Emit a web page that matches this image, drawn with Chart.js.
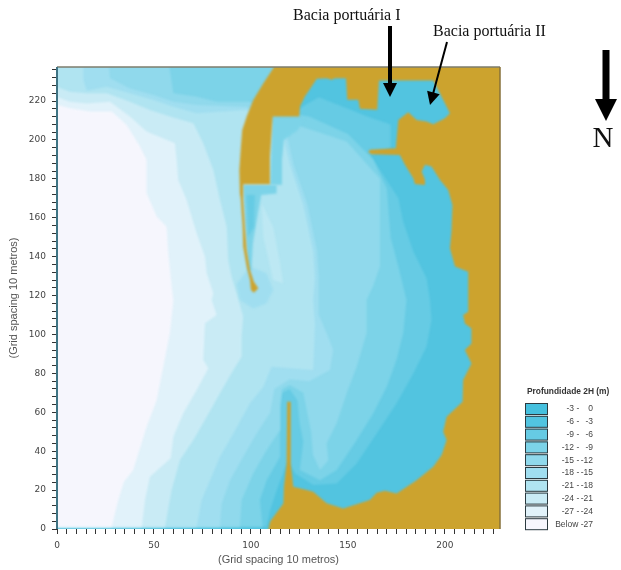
<!DOCTYPE html>
<html>
<head>
<meta charset="utf-8">
<style>
  html, body { margin: 0; padding: 0; background: #fff; }
  #wrap { position: absolute; left: 0; top: 0; width: 621px; height: 570px; }
</style>
</head>
<body>
<div id="wrap"><canvas id="depthMap" width="621" height="570"></canvas></div>
<script src="https://cdn.jsdelivr.net/npm/chart.js@4/dist/chart.umd.min.js"></script>
<script>
// values, grid units
const legendLow = ["-3", "-6", "-9", "-12", "-15", "-18", "-21", "-24", "-27"];
const legendHigh = ["0", "-3", "-6", "-9", "-12", "-15", "-18", "-21", "-24"];
const legendLast = "Below -27";

const xMax = 228.4;
const yMax = 237.5;

// each band runs a little past the axes so the soft edge stays outside the plot
const level3 = [[-3,1.2],[108,1.2],[110,10],[114,22],[117,30],[119,35],[122.7,28.6],[132.1,22.6],[144.2,23.4],[154.5,33.7],[164.8,49.1],[175.1,64.6],[183.7,80],[190.5,93.7],[193.1,107.4],[192.3,117.7],[190.5,129],[183.7,142.6],[178.5,158],[176,170],[168.2,182],[161.3,192.3],[172,196],[172,208],[160,212],[150,216],[135,222],[128,218],[122,214],[113,220],[113,241],[-3,241]];
const level4 = [[-3,1.2],[106,1.2],[104.6,14.9],[108.1,25.1],[115,37.1],[115,62],[116,70],[120,72],[124,66],[125,55],[127,45],[125.2,30.3],[135.6,25.1],[144.2,30.3],[154.5,45.7],[163,59.4],[170,73.1],[175,86.8],[178.5,100.6],[180.2,117.7],[176,135],[172,150],[170,175],[163,190],[150,203],[130,212],[118,214],[112,222],[112,241],[-3,241]];
const level5 = [[-3,1.2],[94.3,1.2],[95.2,14.9],[101.2,28.6],[108.1,40.6],[115,50.9],[115,64],[116,72],[120,74],[127,70],[131,50],[132,38],[135.6,30.3],[139.9,35.4],[139,44],[144.2,54.3],[149.3,69.7],[154.5,83.4],[159.6,100.6],[159.6,117.7],[163,125],[166.5,135],[166.5,146],[166.5,180],[149.3,199.2],[128.7,206],[120,209],[108,212],[99.5,219.7],[82.3,219.7],[72,222.2],[60,224],[57.4,241],[-3,241]];
const level6 = [[-3,1.2],[84,1.2],[84.9,13.1],[89.2,25.1],[96,37.1],[102.9,49.1],[110,60],[112,72],[120,77],[130,76],[140.7,81.7],[142.4,92],[139,100.6],[134.7,110.8],[135,129],[134,143],[129,167],[122,187],[118,205],[104,214],[97.8,217],[72,218],[60,219.7],[49.7,223.1],[37.6,226.5],[27.3,231.7],[26.5,241],[-3,241]];
const level7 = [[-3,1.2],[72,1.2],[74.6,14.9],[78.9,25.1],[84,37.1],[90.9,49.1],[99.5,64.6],[106.4,73.1],[110.6,83.4],[132.1,81.7],[133,105],[132.1,117.7],[133,128.9],[132.1,142.6],[127,166.6],[120.1,187.2],[115.8,205.2],[104,212],[97.8,215.4],[72,213.7],[60,217.1],[49.7,220.5],[37.6,224],[25.6,227.4],[15.3,225.3],[13.6,230.8],[13.6,241],[-3,241]];
const level8 = [[-3,1.2],[55.7,1.2],[59.1,20],[63.4,35.5],[70.3,45.8],[77.2,57.7],[84,69.8],[90.9,81.7],[95.2,88.6],[95.2,98.9],[96,109.2],[92.6,121.2],[90,129.7],[88.3,138.3],[87.5,155.4],[84,169.2],[80.6,184.6],[75.4,198.3],[70.3,208.6],[58.2,212],[47.9,215.4],[37.6,219.7],[25.6,224],[15.3,224],[6.7,224.8],[-3,228.3]];
const level9 = [[-3,1.2],[43.7,1.2],[45.4,14.9],[47.9,26.9],[58.6,36.4],[60,47.5],[65.1,59.5],[72,71.5],[78,82.6],[75.4,86.9],[76.3,105.8],[82.3,110],[79.7,117.7],[80.6,121.2],[77.2,131.5],[76.3,140],[72,152],[66.8,169.2],[62.5,179.4],[61.7,189.7],[60.8,198.3],[46.2,204.3],[37.6,212],[27.3,219.7],[15.3,218.8],[6.7,219.7],[-3,223.1]];
const level10 = [[-3,1.2],[28.2,1.2],[31.6,14.9],[34.5,24.3],[39.3,30.3],[41.4,37.2],[46.2,52.6],[51.4,66.3],[54.8,83.5],[58.2,100.6],[60,117.7],[59.1,124.6],[57.4,141.7],[56.5,155.4],[51.4,160.6],[46.2,172.6],[46.2,189.7],[42.8,196.6],[35.9,207.7],[28.2,214.6],[17,214.6],[6.7,216.3],[-3,218.8]];

// patches that do not nest in the bands above
const lobeInner = [[105.5,167.4],[111.5,155],[115,136.6],[116.6,126.3],[111.5,128],[106.4,150]];
const tipHalo = [[92.6,126],[94.3,117.7],[101.2,113.4],[108,116],[111.5,122.9],[108,131.5],[99.5,135]];
const channelNotch = [[96,176.8],[113.2,176.8],[113.2,172.5],[105.3,171.7],[103.6,162.3],[101,146.9],[100.2,133],[98.5,133],[96.9,158.9]];
const channelEast = [[110,177],[116,177],[116,190],[117,200],[124,205],[128,211],[111,212]];
const channelDeep = [[97.7,171.7],[102,171.7],[101.5,155.3],[98.6,150.2]];

const land = [[111.9,241],[111.9,237.5],[106.4,229.1],[101.2,220.5],[97.8,212],[95.5,205.1],[94.7,194.8],[94,184.5],[94.3,172.5],[94.7,170],[95.7,155.4],[96,145.1],[97.8,134.8],[99.5,128],[100,122.8],[101.5,121.5],[103.8,123.7],[101.5,127.1],[99.5,133.1],[97.8,143.4],[96.9,155.4],[96,169.1],[96,177.2],[109.8,177.2],[109.8,191.4],[111.2,212],[124.9,212],[125.3,217.2],[127.8,222.3],[131.3,227.5],[133.9,231.4],[139,231.7],[141.6,230.9],[143.3,231.7],[149,231.7],[149.7,220.6],[155.3,220.6],[156.2,216],[165.1,215.5],[166,230.5],[194,230.5],[197.4,224],[202.6,213.7],[200,211.2],[194,208.1],[190.5,209.5],[185.4,210.3],[181.1,214.3],[176,210.3],[174.7,195.7],[161.3,194.9],[160.5,193.7],[162.2,192.7],[176.8,192.3],[179.4,187.2],[183.7,180.3],[184.5,177.4],[189.7,176.9],[189.7,179.5],[188,183.8],[189.7,187.2],[193.1,186.3],[197.4,179.5],[201.7,174.3],[203.9,166.6],[203.4,152.9],[202.6,144.3],[205.2,134.9],[212,132.3],[212,111.7],[209.4,110],[210.3,105.7],[213.7,103.1],[213.7,95.4],[210.3,92],[213.7,85.1],[209.4,76.6],[209.1,65.4],[200.9,57.7],[199.1,50],[200.9,45.7],[198.3,38],[194,32],[185.4,25.1],[175.1,18.3],[169.1,19.7],[164.8,18.6],[161.3,14.9],[147.6,10.6],[139,13.2],[132.1,19.1],[128.7,20],[121.8,21.7],[120.5,33.7],[120.5,65.4],[118.7,65.4],[118.4,33.7],[117,21.7],[116.7,13.1],[109.8,3.7],[109,0],[109,-3],[232,-3],[232,241]];

const plotBox = [[-3,-3],[232,-3],[232,241],[-3,241]];

const bandColors = ["#45c0de", "#52c4e0", "#66cbe4", "#7cd3e8", "#90d9ec", "#a0def0", "#b0e4f1", "#c9ebf5", "#e1f2fa", "#f6f6fd"];
const lobeColor = "#bde8f3";
const landColor = "#cca32e";

function shape(points, color) {
  return {
    data: points.map(function (p) { return { x: p[0], y: p[1] }; }),
    backgroundColor: color,
    borderWidth: 0,
    pointRadius: 0,
    showLine: true,
    fill: "shape",
    tension: 0,
  };
}

// painted in this order, last one on top
const layers = [
  shape(plotBox, bandColors[1]),
  shape(level3, bandColors[2]),
  shape(level4, bandColors[3]),
  shape(level5, bandColors[4]),
  shape(level6, bandColors[5]),
  shape(level7, bandColors[6]),
  shape(level8, bandColors[7]),
  shape(level9, bandColors[8]),
  shape(level10, bandColors[9]),
  shape(tipHalo, bandColors[5]),
  shape(lobeInner, lobeColor),
  shape(channelEast, bandColors[3]),
  shape(channelNotch, bandColors[3]),
  shape(channelDeep, bandColors[2]),
  shape(land, landColor),
];
layers.forEach(function (d, i) { d.order = -i; });

function arrow(ctx, x1, y1, x2, y2, shaft, headLen, headWide) {
  const a = Math.atan2(y2 - y1, x2 - x1);
  ctx.save();
  ctx.translate(x2, y2);
  ctx.rotate(a);
  const len = Math.hypot(x2 - x1, y2 - y1);
  ctx.fillStyle = "#000";
  ctx.fillRect(-len, -shaft / 2, len - headLen + 1, shaft);
  ctx.beginPath();
  ctx.moveTo(0, 0);
  ctx.lineTo(-headLen, -headWide / 2);
  ctx.lineTo(-headLen, headWide / 2);
  ctx.closePath();
  ctx.fill();
  ctx.restore();
}

// the source is a soft scan: blur axes and bands a bit, keep the added labels sharp
const softScan = {
  id: "softScan",
  beforeDraw: function (chart) { chart.ctx.filter = "blur(0.5px)"; },
  beforeDatasetsDraw: function (chart) { chart.ctx.filter = "blur(0.9px)"; },
  afterDatasetsDraw: function (chart) { chart.ctx.filter = "blur(0.5px)"; },
};

const extras = {
  id: "extras",
  afterDraw: function (chart) {
    const ctx = chart.ctx;
    const area = chart.chartArea;
    ctx.save();

    // frame around the map
    ctx.lineWidth = 1.5;
    ctx.strokeStyle = "#7c7c6c";
    ctx.beginPath();
    ctx.moveTo(area.left, area.top);
    ctx.lineTo(area.right, area.top);
    ctx.stroke();
    ctx.strokeStyle = "#86713a";
    ctx.beginPath();
    ctx.moveTo(area.right, area.top);
    ctx.lineTo(area.right, area.bottom);
    ctx.stroke();
    ctx.lineWidth = 2;
    ctx.strokeStyle = "#3f7484";
    ctx.beginPath();
    ctx.moveTo(area.left, area.top);
    ctx.lineTo(area.left, area.bottom);
    ctx.stroke();

    // depth legend
    ctx.textBaseline = "middle";
    ctx.fillStyle = "#333";
    ctx.font = "bold 8.4px 'Liberation Sans'";
    ctx.textAlign = "left";
    ctx.fillText("Profundidade 2H (m)", 527, 392);
    ctx.font = "8.5px 'Liberation Sans'";
    bandColors.forEach(function (c, i) {
      const y = 403 + i * 12.8;
      ctx.fillStyle = c;
      ctx.fillRect(525, y, 23, 11.5);
      ctx.strokeStyle = "#2b3a40";
      ctx.lineWidth = 1;
      ctx.strokeRect(525.5, y + 0.5, 22, 11);
      ctx.fillStyle = "#444";
      if (i < legendLow.length) {
        ctx.textAlign = "right";
        ctx.fillText(legendLow[i], 574, y + 6);
        ctx.fillText(legendHigh[i], 593, y + 6);
        ctx.textAlign = "center";
        ctx.fillText("-", 578, y + 6);
      } else {
        ctx.textAlign = "right";
        ctx.fillText(legendLast, 593, y + 6);
      }
    });

    // labels over the map
    ctx.filter = "none";
    ctx.fillStyle = "#111";
    ctx.textAlign = "left";
    ctx.font = "16px 'Liberation Serif'";
    ctx.fillText("Bacia portuária I", 293, 16);
    ctx.fillText("Bacia portuária II", 433, 32);
    ctx.font = "29px 'Liberation Serif'";
    ctx.textAlign = "center";
    ctx.fillText("N", 603, 139);

    arrow(ctx, 390, 26, 390, 97, 4, 14, 14);
    arrow(ctx, 447, 42, 430, 105, 2, 13, 13);
    arrow(ctx, 606, 50, 606, 121, 7, 22, 22);
    ctx.restore();
  },
};

const tickFont = { family: "'DejaVu Sans'", size: 9 };
const titleFont = { family: "'Liberation Sans'", size: 11 };

new Chart(document.getElementById("depthMap"), {
  type: "scatter",
  data: { datasets: layers },
  plugins: [softScan, extras],
  options: {
    responsive: false,
    animation: false,
    layout: { padding: { top: 67, right: 121, left: 0, bottom: 0 } },
    plugins: { legend: { display: false }, tooltip: { enabled: false } },
    scales: {
      x: {
        type: "linear",
        min: 0,
        max: xMax,
        afterFit: function (s) { s.height = 41; },
        grid: { drawOnChartArea: false, tickLength: 5, tickColor: "#333" },
        border: { display: false },
        ticks: {
          stepSize: 5,
          includeBounds: false,
          autoSkip: false,
          maxRotation: 0,
          padding: 6,
          color: "#444",
          font: tickFont,
          callback: function (v) { return v % 50 === 0 ? v : ""; },
        },
        title: { display: true, text: "(Grid spacing 10 metros)", color: "#555", font: titleFont, padding: { top: 2, bottom: 3 } },
      },
      y: {
        type: "linear",
        min: 0,
        max: yMax,
        afterFit: function (s) { s.width = 57; },
        grid: { drawOnChartArea: false, tickLength: 5, tickColor: "#333" },
        border: { display: false },
        ticks: {
          stepSize: 4,
          includeBounds: false,
          autoSkip: false,
          padding: 6,
          color: "#444",
          font: tickFont,
          callback: function (v) { return v % 20 === 0 ? v : ""; },
        },
        title: { display: true, text: "(Grid spacing 10 metros)", color: "#555", font: titleFont, padding: { top: 7, bottom: 0 } },
      },
    },
  },
});
</script>
</body>
</html>
